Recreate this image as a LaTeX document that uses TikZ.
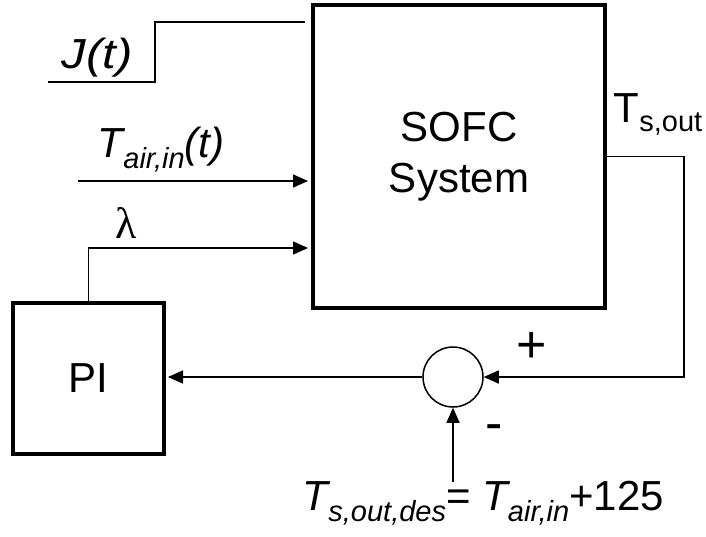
\documentclass[tikz,border=0pt]{standalone}
\usepackage{fontspec}
\setmainfont{Liberation Sans}
\newfontfamily\serifgr{Liberation Serif}
\usetikzlibrary{arrows.meta,positioning,calc}
\newcommand{\sbs}[1]{\raisebox{-5.5pt}{\fontsize{14.5}{14.5}\selectfont #1}}

\begin{document}
\begin{tikzpicture}[x=0.5pt,y=-0.5pt,>={Triangle[length=7.5pt,width=6.5pt]},line width=0.75pt]
\tikzstyle{blk}=[draw,line width=2pt,align=center,font=\fontsize{21}{25.5}\selectfont]
\tikzstyle{lbl}=[inner sep=0pt,anchor=base west,font=\fontsize{21}{25}\selectfont]
\tikzstyle{sgn}=[inner sep=0pt,font=\fontsize{26}{26}\selectfont]
\useasboundingbox (0,0) rectangle (706,536);
% blocks
\node[blk,minimum width=146pt,minimum height=151.5pt] (sofc) at (459,156.5) {SOFC\\System};
\node[blk,minimum width=75.5pt,minimum height=75.5pt] (pi) at (88.5,378.5) {PI};
\node[draw,circle,minimum size=30pt,inner sep=0pt] (sum) at (453,377) {};
% inputs
\coordinate (jin) at (48,82);
\coordinate (tin) at (78,181);
\coordinate (refin) at (453,482);
\node[lbl] (jlbl) at (61,68) {\scalebox{1.17}[1]{\textit{J(t)}}};
\node[lbl] (tlbl) at (97,157) {\textit{T\sbs{air,in}(t)}};
\node[lbl,font=\fontsize{22}{24}\serifgr] (lam) at (115,238) {λ};
\node[lbl] (tout) at (613,122) {T\raisebox{-4.5pt}{\fontsize{14.5}{14.5}\selectfont s,out}};
\node[lbl] (ref) at (302,510) {\textit{T\sbs{s,out,des}}= \textit{T\sbs{air,in}}+125};
\node[sgn] (plus) at (532,347) {+};
\node[sgn] (minus) at (494,433) {-};
% signals
\draw[shorten >=3pt] (jin) -- ++(107,0) |- ($(sofc.west)+(0,-134.5)$);
\draw[->,shorten >=1.5pt] (tin) -- (tin -| sofc.west);
\draw[->,shorten >=1.5pt] (pi.north) |- ($(sofc.west)+(0,91.5)$);
\draw[->] (sofc.east) -- ++(77,0) |- (sum.east);
\draw[->,shorten >=1pt] (sum.west) -- (sum.west -| pi.east);
\draw[->] (refin) -- (sum.south);
\end{tikzpicture}
\end{document}
